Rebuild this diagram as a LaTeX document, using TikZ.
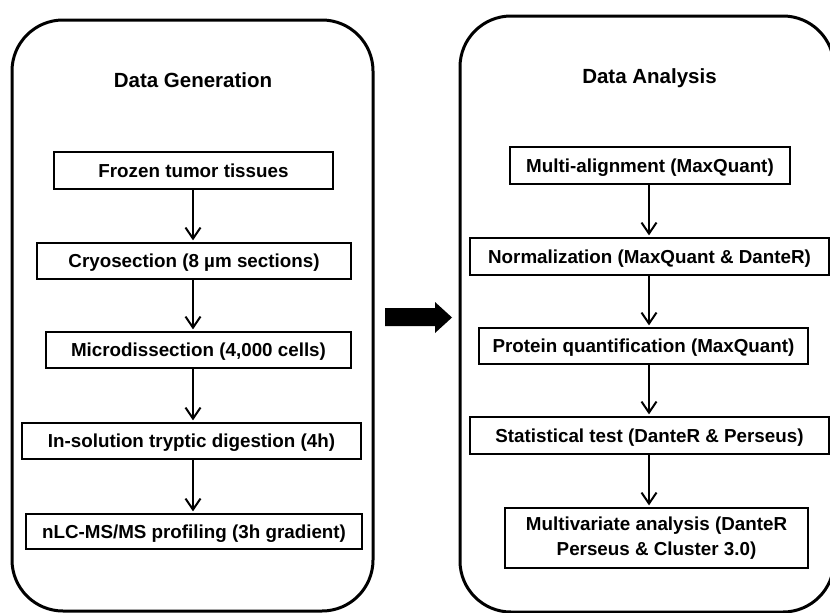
\documentclass[tikz,border=0pt]{standalone}
\usepackage{fontspec}
\setmainfont{Liberation Sans}
\usetikzlibrary{arrows.meta}
\begin{document}
\begin{tikzpicture}[x=1pt,y=-1pt,
  box/.style={draw, line width=2.3pt, inner sep=0pt, font=\bfseries\fontsize{18.8}{25}\selectfont, text height=13.5pt, text depth=0pt},
  box2/.style={draw, line width=2.3pt, inner sep=0pt, align=center, font=\bfseries\fontsize{18.8}{25}\selectfont},
  ttl/.style={font=\bfseries\fontsize{20.5}{24}\selectfont, anchor=base, inner sep=0pt},
  cont/.style={draw, line width=3pt, rounded corners=51pt},
  arr/.style={line width=2pt, shorten >=1.5pt, -{Straight Barb[length=11pt,width=15pt,line width=2pt]}}]
\useasboundingbox (0,0) rectangle (830,613);
\begin{scope}
\clip (0,0) rectangle (830,613);
\draw[cont] (12,20) rectangle (373,611);
\draw[cont] (460,16) rectangle (834,612);
\end{scope}
% titles
\node[ttl] (tg) at (193,87) {Data Generation};
\node[ttl] (ta) at (649.5,83) {Data Analysis};
% left column
\node[box, minimum width=279pt, minimum height=37pt] (L1) at (193.5,170.5) {Frozen tumor tissues};
\node[box, minimum width=314pt, minimum height=36pt] (L2) at (194,261) {Cryosection (8 µm sections)};
\node[box, minimum width=305pt, minimum height=36pt] (L3) at (198.5,350) {Microdissection (4,000 cells)};
\node[box, minimum width=339pt, minimum height=36pt] (L4) at (191.5,441) {In-solution tryptic digestion (4h)};
\node[box, minimum width=336pt, minimum height=35pt] (L5) at (194,531.5) {nLC-MS/MS profiling (3h gradient)};
% right column
\node[box, minimum width=280pt, minimum height=37pt] (R1) at (650,165.5) {Multi-alignment (MaxQuant)};
\node[box, minimum width=359pt, minimum height=37pt] (R2) at (649.5,256.5) {Normalization (MaxQuant \& DanteR)};
\node[box, minimum width=329pt, minimum height=36pt] (R3) at (643.5,346) {Protein quantification (MaxQuant)};
\node[box, minimum width=359pt, minimum height=37pt] (R4) at (649.5,435.5) {Statistical test (DanteR \& Perseus)};
\node[box2, minimum width=303pt, minimum height=60pt] (R5) at (656.5,538) {Multivariate analysis (DanteR\\Perseus \& Cluster 3.0)};
% arrows
\coordinate (lx) at (193,0);
\coordinate (rx) at (649,0);
\draw[arr] (L1.south -| lx) -- (L2.north -| lx);
\draw[arr] (L2.south -| lx) -- (L3.north -| lx);
\draw[arr] (L3.south -| lx) -- (L4.north -| lx);
\draw[arr] (L4.south -| lx) -- (L5.north -| lx);
\draw[arr] (R1.south -| rx) -- (R2.north -| rx);
\draw[arr] (R2.south -| rx) -- (R3.north -| rx);
\draw[arr] (R3.south -| rx) -- (R4.north -| rx);
\draw[arr] (R4.south -| rx) -- (R5.north -| rx);
% big arrow
\fill (385,308) -- (435,308) -- (435,302) -- (452,317.5) -- (435,333) -- (435,326) -- (385,326) -- cycle;
\end{tikzpicture}
\end{document}
